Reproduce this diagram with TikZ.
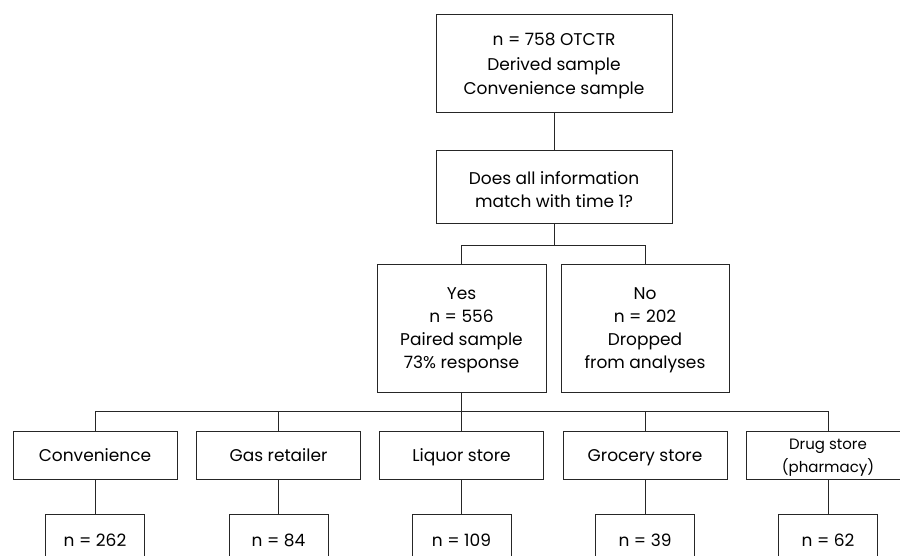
\documentclass[tikz,border=0pt]{standalone}
\usepackage{fontspec}
\setmainfont{Poppins}
\newcommand{\lift}[1]{\rule{0pt}{#1}}
\begin{document}
\begin{tikzpicture}[x=1pt,y=1pt,
  box/.style={draw=black!85, line width=0.9pt, rectangle, align=center, inner sep=0pt,
    font=\fontsize{17}{24}\selectfont},
  one/.style={box, text height=12.5pt, text depth=0pt},
  cat/.style={one, minimum width=164, minimum height=48},
  cnt/.style={one, minimum width=99, minimum height=52},
  conn/.style={draw=black!85, line width=0.9pt}]
\useasboundingbox (0,0) rectangle (900,-556);
% top
\node[box, minimum width=236, minimum height=98, font=\fontsize{17}{24.5}\selectfont] (top) at (554,-63)
  {\lift{18.5pt}n = 758 OTCTR\\Derived sample\\Convenience sample};
\node[box, minimum width=236, minimum height=73, font=\fontsize{17}{23}\selectfont] (q) at (554,-186.5)
  {\lift{18.5pt}Does all information\\match with time 1?};
\node[box, minimum width=169, minimum height=128, font=\fontsize{17}{23}\selectfont] (yes) at (461.5,-328)
  {\lift{16.5pt}Yes\\n = 556\\Paired sample\\73\% response};
\node[box, minimum width=168, minimum height=128, font=\fontsize{17}{23}\selectfont] (no) at (645,-328)
  {\lift{16.5pt}No\\n = 202\\Dropped\\from analyses};
% categories
\node[cat] (c1) at (95,-455) {Convenience};
\node[cat] (c2) at (278.5,-455) {Gas retailer};
\node[cat] (c3) at (461.5,-455) {Liquor store};
\node[cat] (c4) at (645,-455) {Grocery store};
\node[box, minimum width=164, minimum height=48, font=\fontsize{15}{23}\selectfont] (c5) at (828,-455) {\lift{16pt}Drug store\\(pharmacy)};
% counts
\node[cnt] (n1) at (95,-540) {n = 262};
\node[cnt] (n2) at (278.5,-540) {n = 84};
\node[cnt] (n3) at (461.5,-540) {n = 109};
\node[cnt] (n4) at (645,-540) {n = 39};
\node[cnt] (n5) at (828,-540) {n = 62};
% connectors
\draw[conn] (top.south) -- (q.north);
\coordinate (b1) at (554,-245);
\draw[conn] (q.south) -- (b1);
\draw[conn] (yes.north) -- (yes.north |- b1) -| (no.north);
\coordinate (b2) at (461.5,-411);
\draw[conn] (yes.south) -- (b2);
\draw[conn] (c1.north) -- (c1.north |- b2) -| (c5.north);
\draw[conn] (c2.north) -- (c2.north |- b2);
\draw[conn] (c3.north) -- (c3.north |- b2);
\draw[conn] (c4.north) -- (c4.north |- b2);
\foreach \i in {1,...,5} \draw[conn] (c\i.south) -- (n\i.north);
\end{tikzpicture}
\end{document}
